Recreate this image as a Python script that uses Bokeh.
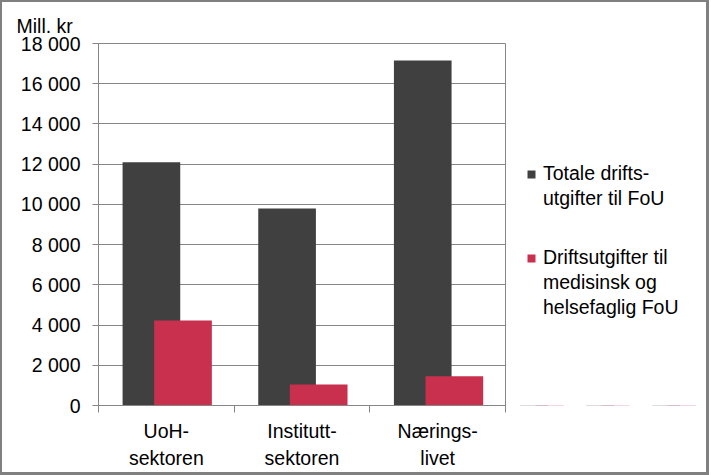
from bokeh.plotting import figure
from bokeh.models import (FixedTicker, CustomJSTickFormatter, Legend, LegendItem,
                          Range1d, Title, ColumnDataSource, BoxAnnotation)
from bokeh.layouts import column, row
from bokeh.embed import file_html
from bokeh.resources import INLINE
import numpy as np

categories = ["UoH-\nsektoren", "Institutt-\nsektoren", "Nærings-\nlivet"]
totale = [12100, 9800, 17150]
medhelse = [4230, 1050, 1450]
series_lines = [["Totale drifts-", "utgifter til FoU"],
                ["Driftsutgifter til", "medisinsk og", "helsefaglig FoU"]]
y_ticks = [0, 2000, 4000, 6000, 8000, 10000, 12000, 14000, 16000, 18000]

FONT = "Liberation Sans"
FS = "19.5px"
GRAY = "#868686"
DARK = "#404040"
RED = "#C8304E"

n = len(categories)
idx = np.arange(n)
centers = idx + 0.5

p = figure(width=506, height=470, output_backend="svg", toolbar_location=None,
           x_range=Range1d(0, n), y_range=Range1d(0, 18000),
           min_border_left=96, min_border_right=3, min_border_top=41,
           min_border_bottom=67)

src = ColumnDataSource(dict(x1=centers - 0.11, x2=centers + 0.123,
                            tot=totale, med=medhelse))
r1 = p.vbar(x="x1", top="tot", width=0.425, source=src, fill_color=DARK, line_color=None)
r2 = p.vbar(x="x2", top="med", width=0.425, source=src, fill_color=RED, line_color=None)

# axes
p.xaxis.ticker = FixedTicker(ticks=list(centers), minor_ticks=list(np.arange(n + 1)))
p.xaxis.major_label_overrides = {float(c): lab for c, lab in zip(centers, categories)}
p.xaxis.major_tick_out = 0
p.xaxis.major_tick_in = 0
p.xaxis.minor_tick_out = 7
p.xaxis.minor_tick_in = 0
p.xaxis.minor_tick_line_color = GRAY
p.xaxis.axis_line_color = GRAY
p.xaxis.major_label_text_font = FONT
p.xaxis.major_label_text_font_size = FS
p.xaxis.major_label_text_color = "#000000"
p.xaxis.major_label_text_line_height = 1.23
p.xaxis.major_label_standoff = 7

p.yaxis.ticker = FixedTicker(ticks=y_ticks, minor_ticks=[])
p.yaxis.formatter = CustomJSTickFormatter(
    code="return Math.round(tick).toString().replace(/\\B(?=(\\d{3})+(?!\\d))/g, ' ');")
p.yaxis.major_tick_out = 6
p.yaxis.major_tick_in = 0
p.yaxis.major_tick_line_color = GRAY
p.yaxis.axis_line_color = GRAY
p.yaxis.major_label_text_font = FONT
p.yaxis.major_label_text_font_size = FS
p.yaxis.major_label_text_color = "#000000"
p.yaxis.major_label_standoff = 12

p.xgrid.grid_line_color = None
p.ygrid.grid_line_color = GRAY
p.ygrid.grid_line_width = 1
p.outline_line_color = GRAY
p.outline_line_width = 1

p.title = Title(text="Mill. kr", align="left", offset=-82, text_font=FONT,
                text_font_size=FS, text_font_style="normal",
                text_color="#000000", standoff=13)

# legend panel: separate figure whose ranges keep its bars out of view,
# only the legend swatches are shown
pl = figure(width=198, height=470, output_backend="svg", toolbar_location=None,
            x_range=Range1d(0, n), y_range=Range1d(1e6, 2e6),
            x_axis_location=None, y_axis_location=None,
            min_border_left=0, min_border_right=0, min_border_top=0,
            min_border_bottom=0)
pl.grid.visible = False
pl.outline_line_color = None
l1 = pl.vbar(x="x1", top="tot", width=0.425, source=src, fill_color=DARK, line_color=None)
l2 = pl.vbar(x="x2", top="med", width=0.425, source=src, fill_color=RED, line_color=None)
pl.add_layout(BoxAnnotation(fill_color="white", fill_alpha=1.0, line_alpha=0))

def make_legend(lines, rend, loc):
    items = [LegendItem(label=lines[0], renderers=[rend])]
    items += [LegendItem(label=t, renderers=[]) for t in lines[1:]]
    return Legend(items=items, location=loc, orientation="vertical",
                  label_text_font=FONT, label_text_font_size=FS,
                  label_text_color="#000000", label_height=25,
                  glyph_width=10, glyph_height=10, label_standoff=7,
                  spacing=0, padding=0, margin=0, border_line_color=None,
                  background_fill_alpha=0)

pl.add_layout(make_legend(series_lines[0], l1, (18, 194)), "center")
pl.add_layout(make_legend(series_lines[1], l2, (18, 85)), "center")

layout = column(row(p, pl), styles={"border-left": "2px solid #808080",
                                    "border-top": "2px solid #808080",
                                    "border-right": "3px solid #808080",
                                    "border-bottom": "3px solid #808080"})

open("out.html", "w").write(file_html(layout, INLINE))
